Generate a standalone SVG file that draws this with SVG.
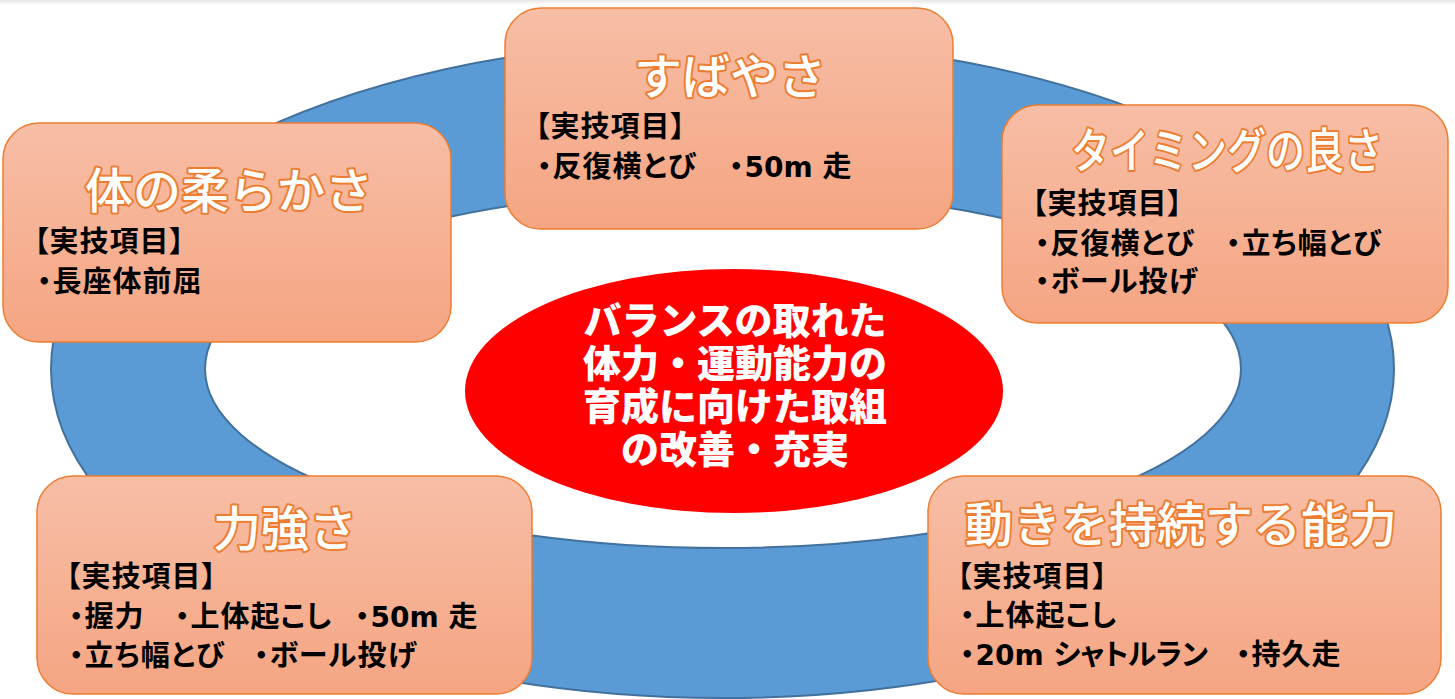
<svg xmlns="http://www.w3.org/2000/svg" width="1455" height="699" viewBox="0 0 1455 699">
<defs>
<linearGradient id="boxg" x1="0" y1="0" x2="0" y2="1">
<stop offset="0" stop-color="#F7BEA6"/>
<stop offset="1" stop-color="#F5A582"/>
</linearGradient>
<linearGradient id="topg" x1="0" y1="0" x2="0" y2="1">
<stop offset="0" stop-color="#E6E6E6"/>
<stop offset="1" stop-color="#FFFFFF"/>
</linearGradient>
<style>
.box{fill:url(#boxg);stroke:#ED7D31;stroke-width:1.5}
.title{font-family:"Noto Sans CJK JP","Noto Sans CJK SC",sans-serif;font-size:48px;font-weight:500;fill:#FFFFFF;stroke:#ED7D31;stroke-width:4;paint-order:stroke;stroke-linejoin:round;text-anchor:middle}
.body{font-family:"Noto Sans CJK JP","Noto Sans CJK SC",sans-serif;font-size:29px;font-weight:700;fill:#000000;font-feature-settings:"palt" 1;letter-spacing:1px}
.lat{font-family:"DejaVu Sans",sans-serif;font-weight:700;font-size:28px;letter-spacing:0}
.kana{letter-spacing:-0.5px}
.center{font-family:"Noto Sans CJK JP","Noto Sans CJK SC",sans-serif;font-size:38px;font-weight:900;fill:#FFFFFF;text-anchor:middle}
</style>
</defs>
<rect x="0" y="0" width="1455" height="699" fill="#FFFFFF"/>
<rect x="0" y="0" width="1455" height="5" fill="url(#topg)"/>
<g id="ring">
<path d="M51,369 A671.5,329 0 1,0 1394,369 A671.5,329 0 1,0 51,369 Z M205,369 A518,179 0 1,0 1241,369 A518,179 0 1,0 205,369 Z" fill="#5B9BD5" fill-rule="evenodd" stroke="#41719C" stroke-width="2"/>
</g>
<g id="core">
<ellipse cx="734" cy="391" rx="269" ry="122" fill="#FF0000"/>
<text class="center"><tspan x="735" y="334">バランスの取れた</tspan><tspan x="735" y="377">体力・運動能力の</tspan><tspan x="735" y="420">育成に向けた取組</tspan><tspan x="735" y="463">の改善・充実</tspan></text>
</g>
<g id="connectors"></g>
<g id="node-subayasa">
<rect class="box" x="505" y="8" width="448" height="221" rx="36" ry="36"/>
<text class="title" x="730" y="94">すばやさ</text>
<text class="body" x="535" y="137">【実技項目】</text>
<text class="body" y="177"><tspan x="537">・反復横とび</tspan><tspan x="729">・</tspan><tspan class="lat">50m </tspan><tspan>走</tspan></text>
</g>
<g id="node-jyuunan">
<rect class="box" x="3" y="123" width="448" height="219" rx="36" ry="36"/>
<text class="title" x="229" y="208">体の柔らかさ</text>
<text class="body" x="34" y="252">【実技項目】</text>
<text class="body" x="37" y="292">・長座体前屈</text>
</g>
<g id="node-timing">
<rect class="box" x="1002" y="105" width="446" height="218" rx="36" ry="36"/>
<text class="title" x="1227" y="168" textLength="312" lengthAdjust="spacingAndGlyphs">タイミングの良さ</text>
<text class="body" x="1032" y="214">【実技項目】</text>
<text class="body" y="254"><tspan x="1035">・反復横とび</tspan><tspan x="1226">・立ち幅とび</tspan></text>
<text class="body" x="1035" y="292">・ボール投げ</text>
</g>
<g id="node-chikarazuyosa">
<rect class="box" x="37" y="476" width="495" height="218" rx="36" ry="36"/>
<text class="title" x="285" y="546">力強さ</text>
<text class="body" x="66" y="587">【実技項目】</text>
<text class="body" y="627"><tspan x="69">・握力</tspan><tspan x="175">・上体起こし</tspan><tspan x="355">・</tspan><tspan class="lat">50m </tspan><tspan>走</tspan></text>
<text class="body" y="666"><tspan x="69">・立ち幅とび</tspan><tspan x="254">・ボール投げ</tspan></text>
</g>
<g id="node-jizoku">
<rect class="box" x="928" y="476" width="513" height="218" rx="36" ry="36"/>
<text class="title" x="1181" y="542">動きを持続する能力</text>
<text class="body" x="957" y="587">【実技項目】</text>
<text class="body" x="960" y="626">・上体起こし</text>
<text class="body" y="665"><tspan x="960">・</tspan><tspan class="lat">20m </tspan><tspan class="kana">シャトルラン</tspan><tspan x="1236">・持久走</tspan></text>
</g>
</svg>
